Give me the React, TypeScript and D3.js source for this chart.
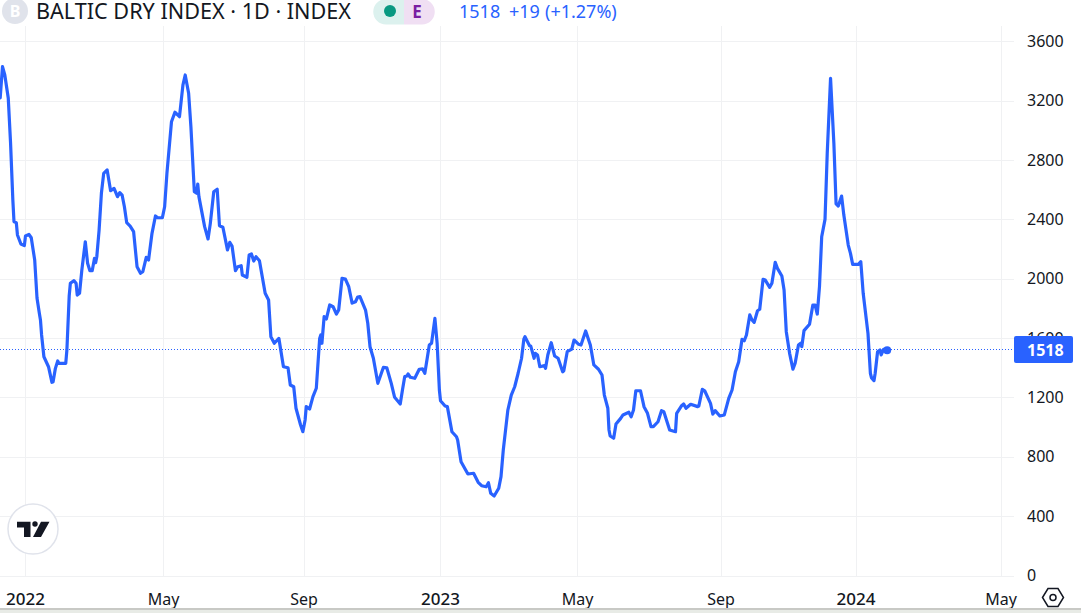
import { useEffect, useRef } from 'react'
import * as d3 from 'd3'

const WIDTH = 1081
const HEIGHT = 613
const BLUE = '#2962ff'
const GRID = '#f0f1f3'
const TEXT = '#131722'
const FONT = '"Noto Sans", "Open Sans", sans-serif'

// Days since 2022-01-01 (negative = late 2021)
const days = [
  -22, -20, -18, -15, -13, -11, -10, -8, -7, -4, -1, 0, 3, 5, 8, 10, 12, 13, 14, 16, 20, 23, 24, 26, 28, 29, 35, 36, 38,
  39, 42, 44, 45, 47, 49, 52, 54, 56, 58, 60, 61, 62, 64, 66, 68, 71, 74, 77, 80, 82, 84, 86, 88, 91, 94, 97, 100, 102,
  105, 107, 110, 113, 115, 119, 121, 123, 127, 130, 134, 137, 139, 142, 144, 147, 149, 150, 151, 156, 159, 161, 164,
  167, 169, 172, 176, 178, 180, 183, 185, 188, 189, 193, 195, 197, 199, 201, 204, 209, 212, 214, 217, 221, 225, 229,
  231, 234, 236, 240, 242, 244, 245, 248, 251, 254, 257, 258, 259, 261, 263, 266, 269, 272, 274, 277, 280, 283, 286,
  289, 291, 293, 298, 300, 302, 305, 309, 314, 317, 321, 324, 329, 331, 333, 335, 336, 338, 342, 346, 349, 351, 355,
  357, 360, 362, 364, 365, 369, 371, 375, 379, 380, 383, 389, 394, 398, 401, 405, 407, 409, 412, 416, 418, 420, 422,
  424, 427, 430, 433, 436, 438, 439, 443, 444, 447, 448, 450, 452, 456, 457, 459, 462, 465, 468, 472, 473, 476, 480,
  482, 486, 488, 492, 496, 499, 503, 506, 508, 511, 512, 513, 516, 518, 522, 524, 529, 531, 533, 535, 539, 542, 545,
  548, 550, 554, 557, 559, 562, 564, 569, 570, 574, 576, 578, 582, 588, 589, 592, 594, 599, 601, 603, 607, 611, 615,
  618, 621, 624, 627, 629, 631, 634, 636, 638, 641, 643, 646, 648, 652, 654, 657, 659, 663, 665, 667, 670, 673, 675,
  678, 680, 681, 683, 688, 691, 693, 695, 697, 699, 702, 704, 707, 710, 712, 714, 717, 719, 723, 725, 727, 732, 734,
  736, 740, 742, 743, 745, 746, 748, 750, 751, 753, 756,
]

const closes = [
  3218, 3429, 3373, 3218, 2915, 2530, 2384, 2378, 2295, 2234, 2223, 2288, 2299, 2276, 2126, 1870, 1769, 1722, 1621,
  1474, 1407, 1302, 1306, 1396, 1446, 1430, 1430, 1520, 1884, 1969, 1987, 1969, 1890, 1902, 2059, 2249, 2104, 2054,
  2054, 2138, 2108, 2148, 2328, 2576, 2710, 2733, 2593, 2609, 2553, 2580, 2564, 2485, 2378, 2355, 2317, 2081, 2037,
  2047, 2144, 2126, 2306, 2423, 2411, 2411, 2485, 2710, 3058, 3122, 3092, 3305, 3373, 3250, 3024, 2586, 2576, 2638,
  2553, 2351, 2268, 2373, 2586, 2603, 2357, 2347, 2194, 2245, 2220, 2054, 2081, 2088, 2025, 2010, 2160, 2167, 2119,
  2148, 2121, 1902, 1857, 1609, 1565, 1598, 1407, 1400, 1284, 1272, 1127, 1014, 969, 1048, 1138, 1122, 1205, 1262,
  1598, 1621, 1565, 1744, 1729, 1823, 1811, 1762, 1789, 2003, 1998, 1946, 1836, 1845, 1877, 1879, 1789, 1700, 1542,
  1464, 1295, 1403, 1400, 1295, 1201, 1156, 1250, 1340, 1344, 1358, 1336, 1329, 1390, 1392, 1363, 1553, 1565, 1733,
  1565, 1250, 1178, 1142, 1138, 969, 935, 913, 767, 684, 689, 628, 605, 598, 625, 554, 536, 588, 666, 846, 981, 1115,
  1216, 1272, 1363, 1464, 1592, 1609, 1549, 1547, 1464, 1497, 1486, 1407, 1414, 1396, 1486, 1569, 1479, 1464, 1373,
  1380, 1508, 1526, 1587, 1558, 1553, 1648, 1553, 1419, 1390, 1351, 1216, 1127, 981, 940, 925, 1021, 1059, 1082,
  1100, 1070, 1115, 1245, 1245, 1138, 1093, 1003, 1003, 1036, 1111, 1104, 1030, 981, 969, 1093, 1142, 1156, 1127,
  1154, 1138, 1142, 1255, 1245, 1160, 1088, 1111, 1075, 1082, 1194, 1250, 1373, 1441, 1592, 1582, 1621, 1756, 1722,
  1706, 1784, 1794, 1996, 1991, 1942, 1969, 2111, 2070, 2018, 1924, 1643, 1497, 1390, 1430, 1553, 1565, 1542, 1650,
  1693, 1823, 1823, 1762, 1946, 2283, 2400, 2845, 3351, 2913, 2504, 2490, 2557, 2429, 2227, 2171, 2097, 2097, 2115,
  1902, 1632, 1363, 1331, 1313, 1363, 1508, 1520, 1486, 1524, 1518,
]

const yTicks = [0, 400, 800, 1200, 1600, 2000, 2400, 2800, 3200, 3600]
const xTickLabels = ['2022', 'May', 'Sep', '2023', 'May', 'Sep', '2024', 'May']
const xTickDays = [0, 120, 243, 365, 485, 608, 730, 851]
const xTickPixels = [25.5, 163.5, 304, 440.5, 577.5, 721, 856, 1001]

const LAST_VALUE = 1518
const quoteParts = ['1518', '+19', '(+1.27%)']
const quoteX = [459, 509, 545]
const PLOT_RIGHT = 1014

export default function App() {
  const svgRef = useRef<SVGSVGElement | null>(null)

  useEffect(() => {
    const svg = d3.select(svgRef.current)
    svg.selectAll('*').remove()

    // the time axis is not quite linear, so it is pinned at each tick
    const x = d3.scaleLinear().domain(xTickDays).range(xTickPixels)
    const y = d3.scaleLinear().domain([0, 3600]).range([575.5, 41.3])

    // ── Grid ──
    const grid = svg.append('g').attr('stroke', GRID).attr('stroke-width', 1)
    yTicks.forEach(t => {
      grid.append('line')
        .attr('x1', 0).attr('x2', PLOT_RIGHT)
        .attr('y1', Math.round(y(t)) + 0.5).attr('y2', Math.round(y(t)) + 0.5)
    })
    xTickDays.forEach(t => {
      grid.append('line')
        .attr('x1', Math.floor(x(t)) + 0.5).attr('x2', Math.floor(x(t)) + 0.5)
        .attr('y1', 26).attr('y2', 577)
    })

    // ── Price line ──
    svg.append('line')
      .attr('x1', 0).attr('x2', PLOT_RIGHT)
      .attr('y1', 349.5).attr('y2', 349.5)
      .attr('stroke', BLUE).attr('stroke-width', 1).attr('stroke-dasharray', '1 2')

    const line = d3.line<number>()
      .x((_, i) => x(days[i]))
      .y(d => y(d))
    svg.append('path')
      .attr('d', line(closes))
      .attr('fill', 'none')
      .attr('stroke', BLUE)
      .attr('stroke-width', 3.2)
      .attr('stroke-linejoin', 'round')
      .attr('stroke-linecap', 'round')
      .style('filter', 'blur(0.4px)')
    svg.append('circle')
      .attr('cx', x(days[days.length - 1])).attr('cy', y(LAST_VALUE))
      .attr('r', 4).attr('fill', BLUE)

    // ── Axes labels ──
    svg.append('g').selectAll('text')
      .data(yTicks)
      .join('text')
      .attr('x', 1027).attr('y', d => y(d) + 5.5)
      .attr('font-size', 16).attr('fill', TEXT).attr('font-family', FONT)
      .text(d => d)

    svg.append('g').selectAll('text')
      .data(xTickLabels)
      .join('text')
      .attr('x', (_, i) => xTickPixels[i]).attr('y', 605)
      .attr('text-anchor', 'middle')
      .attr('font-size', d => (d.startsWith('20') ? 17 : 16))
      .attr('font-weight', d => (d.startsWith('20') ? 500 : 400))
      .attr('fill', TEXT).attr('font-family', FONT)
      .text(d => d)

    // ── Last value badge ──
    svg.append('rect')
      .attr('x', 1014).attr('y', 336).attr('width', 59).attr('height', 27).attr('rx', 2)
      .attr('fill', BLUE)
    svg.append('text')
      .attr('x', 1027).attr('y', 355.5)
      .attr('font-size', 16).attr('font-weight', 700).attr('fill', '#fff').attr('font-family', FONT)
      .text(LAST_VALUE)

    // ── Header ──
    svg.append('circle').attr('cx', 15).attr('cy', 11).attr('r', 13).attr('fill', '#e0e3eb')
    svg.append('text')
      .attr('x', 15).attr('y', 17).attr('text-anchor', 'middle')
      .attr('font-size', 16).attr('font-weight', 700).attr('fill', '#fff').attr('font-family', FONT)
      .text('B')
    svg.append('text')
      .attr('x', 36).attr('y', 19)
      .attr('font-size', 21).attr('fill', TEXT).attr('font-family', FONT)
      .attr('textLength', 315).attr('lengthAdjust', 'spacingAndGlyphs')
      .text('BALTIC DRY INDEX · 1D · INDEX')

    svg.append('path')
      .attr('d', 'M404,-1H386A12.5,12.5 0 0 0 386,24.5H404Z').attr('fill', '#dcf1ee')
    svg.append('path')
      .attr('d', 'M404,-1H422A12.5,12.5 0 0 1 422,24.5H404Z').attr('fill', '#f0dff3')
    svg.append('circle').attr('cx', 390).attr('cy', 11).attr('r', 6).attr('fill', '#089981')
    svg.append('text')
      .attr('x', 417).attr('y', 18).attr('text-anchor', 'middle')
      .attr('font-size', 17).attr('font-weight', 700).attr('fill', '#7b1fa2').attr('font-family', FONT)
      .text('E')
    svg.append('g').selectAll('text')
      .data(quoteParts)
      .join('text')
      .attr('x', (_, i) => quoteX[i]).attr('y', 18)
      .attr('font-size', 18).attr('fill', BLUE).attr('font-family', FONT)
      .text(d => d)

    // ── Logo and settings icon ──
    svg.append('circle')
      .attr('cx', 33).attr('cy', 529).attr('r', 25)
      .attr('fill', '#fff').attr('stroke', '#e0e3eb').attr('stroke-width', 1.5)
    svg.append('path')
      .attr('d', 'M17,521.7H30.5V537H24V527.5H17Z M41,521.7H49.5L41,537H33Z')
      .attr('fill', TEXT)
    svg.append('circle').attr('cx', 35).attr('cy', 524).attr('r', 2.7).attr('fill', TEXT)

    svg.append('path')
      .attr('d', 'M1042.5,597.5L1048,588.5H1058L1063.5,597.5L1058,606.5H1048Z')
      .attr('fill', 'none').attr('stroke', TEXT).attr('stroke-width', 1.5)
    svg.append('circle')
      .attr('cx', 1053).attr('cy', 597.5).attr('r', 3)
      .attr('fill', 'none').attr('stroke', TEXT).attr('stroke-width', 1.5)

    // strip along the bottom edge
    svg.append('rect').attr('x', 0).attr('y', 608).attr('width', WIDTH).attr('height', 2).attr('fill', '#c8c9c5')
    svg.append('rect').attr('x', 0).attr('y', 610).attr('width', WIDTH).attr('height', 3).attr('fill', '#e8ebe6')
  }, [])

  return (
    <svg
      ref={svgRef}
      width={WIDTH}
      height={HEIGHT}
      style={{ position: 'fixed', left: 0, top: 0, background: '#fff' }}
    />
  )
}
